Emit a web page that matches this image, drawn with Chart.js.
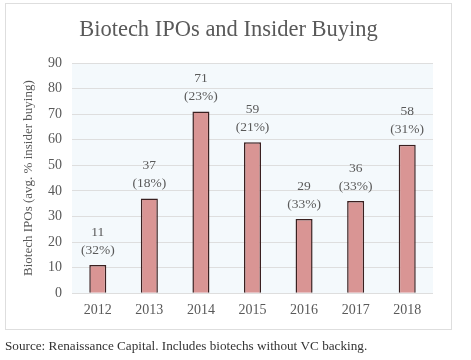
<!DOCTYPE html>
<html>
<head>
<meta charset="utf-8">
<script src="https://cdn.jsdelivr.net/npm/chart.js@4/dist/chart.umd.min.js"></script>
<style>
  html, body { margin: 0; padding: 0; background: #ffffff; }
  #wrap { position: relative; width: 471px; height: 360px; }
  #card { position: absolute; left: 5px; top: 3px; width: 445px; height: 325px; border: 1px solid #dedede; background: #ffffff; }
  #c { position: absolute; left: 0; top: 0; }
</style>
</head>
<body>
<div id="wrap">
  <div id="card"></div>
  <canvas id="c" width="471" height="360"></canvas>
</div>
<script>
const years = ['2012', '2013', '2014', '2015', '2016', '2017', '2018'];
const ipoCounts = [11, 37, 71, 59, 29, 36, 58];
const insiderPct = [32, 18, 23, 21, 33, 33, 31];
const yTicks = [0, 10, 20, 30, 40, 50, 60, 70, 80, 90];

const SERIF = '"Liberation Serif", "DejaVu Serif", serif';

const areaTint = {
  id: 'areaTint',
  beforeDraw(chart) {
    const { ctx, chartArea: a } = chart;
    ctx.save();
    ctx.fillStyle = '#f4f9fc';
    ctx.fillRect(a.left, a.top, a.right - a.left, a.bottom - a.top);
    ctx.restore();
  }
};

const barLabels = {
  id: 'barLabels',
  afterDatasetsDraw(chart) {
    const { ctx } = chart;
    const meta = chart.getDatasetMeta(0);
    ctx.save();
    ctx.font = '13.5px ' + SERIF;
    ctx.fillStyle = '#595959';
    ctx.textAlign = 'center';
    ctx.textBaseline = 'middle';
    meta.data.forEach((bar, i) => {
      ctx.fillText(String(ipoCounts[i]), bar.x, bar.y - 33);
      ctx.fillText('(' + insiderPct[i] + '%)', bar.x, bar.y - 15);
    });
    ctx.restore();
  }
};

new Chart(document.getElementById('c'), {
  type: 'bar',
  data: {
    labels: years,
    datasets: [{
      data: ipoCounts,
      backgroundColor: '#d99594',
      borderColor: '#3a2020',
      borderWidth: 1.5,
      categoryPercentage: 1,
      barPercentage: 0.33
    }]
  },
  options: {
    responsive: false,
    animation: false,
    devicePixelRatio: 1,
    layout: { padding: { left: 5, right: 19, top: 0, bottom: 6 } },
    plugins: {
      legend: { display: false },
      tooltip: { enabled: false },
      title: {
        display: true,
        text: 'Biotech IPOs and Insider Buying',
        color: '#595959',
        font: { family: SERIF, size: 22.5, weight: 'normal' },
        padding: { top: 17, bottom: 19 }
      },
      subtitle: {
        display: true,
        position: 'bottom',
        align: 'start',
        text: 'Source: Renaissance Capital. Includes biotechs without VC backing.',
        color: '#333333',
        font: { family: SERIF, size: 13.2, weight: 'normal' },
        padding: { top: 0, bottom: 0 }
      }
    },
    scales: {
      x: {
        grid: { display: false, drawTicks: false },
        border: { display: false },
        ticks: { color: '#595959', font: { family: SERIF, size: 14 }, padding: 9 },
        afterFit(axis) { axis.height = 45; }
      },
      y: {
        min: 0,
        max: 90,
        afterBuildTicks(axis) { axis.ticks = yTicks.map(v => ({ value: v })); },
        grid: { color: '#dedede', lineWidth: 1, drawTicks: false },
        border: { display: false },
        ticks: { color: '#595959', font: { family: SERIF, size: 14 }, padding: 10 },
        title: {
          display: true,
          text: 'Biotech IPOs (avg. % insider buying)',
          color: '#595959',
          font: { family: SERIF, size: 13 },
          padding: { top: 16, bottom: 0 }
        },
        afterFit(axis) { axis.width = 67; }
      },
      y2: {
        position: 'right',
        display: true,
        grid: { display: false, drawTicks: false },
        border: { display: false },
        ticks: { display: false },
        afterFit(axis) { axis.width = 19; }
      }
    }
  },
  plugins: [areaTint, barLabels]
});
</script>
</body>
</html>
